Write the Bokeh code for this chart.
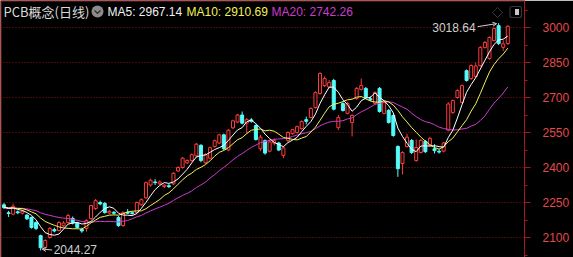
import numpy as np
import pandas as pd
from bokeh.plotting import figure
from bokeh.models import (ColumnDataSource, Range1d, FixedTicker, Label, Arrow,
                          OpenHead, BoxAnnotation, PolyAnnotation, Span)
from bokeh.embed import file_html
from bokeh.resources import INLINE

# ---------------- data ----------------
title = "PCB概念(日线)"
ma_labels = ["MA5: 2967.14", "MA10: 2910.69", "MA20: 2742.26"]
y_ticks = [2100, 2250, 2400, 2550, 2700, 2850, 3000]
y_minor_ticks = [2025, 2175, 2325, 2475, 2625, 2775, 2925, 3075]

# closes before the visible window (only used to start the moving averages)
pre_close = [2212, 2218, 2209, 2224, 2230, 2215, 2221, 2235, 2226, 2219,
             2232, 2240, 2227, 2218, 2236, 2229, 2222, 2238, 2231]

opens = [2240, 2206, 2200, 2210, 2204, 2196, 2186, 2164, 2108, 2058,
         2100, 2134, 2130, 2150, 2164, 2182, 2162, 2134, 2139, 2181,
         2224, 2250, 2246, 2205, 2208, 2186, 2151, 2208, 2206, 2207,
         2240, 2270, 2325, 2338, 2330, 2318, 2322, 2330, 2385, 2400,
         2420, 2430, 2450, 2495, 2420, 2440, 2490, 2505, 2540, 2475,
         2570, 2595, 2625, 2590, 2604, 2580, 2480, 2515, 2470, 2505,
         2505, 2452, 2516, 2545, 2550, 2567, 2605, 2614, 2657, 2717,
         2751, 2745, 2773, 2571, 2674, 2632, 2593, 2696, 2735, 2739,
         2695, 2675, 2739, 2632, 2645, 2623, 2490, 2417, 2490, 2516,
         2430, 2464, 2512, 2495, 2480, 2470, 2470, 2560, 2636, 2700,
         2679, 2815, 2781, 2790, 2837, 2914, 2867, 2944, 3008, 2915,
         2931]
highs = [2248, 2214, 2245, 2216, 2218, 2200, 2190, 2170, 2112, 2092,
         2145, 2142, 2170, 2170, 2202, 2190, 2166, 2142, 2178, 2240,
         2265, 2258, 2252, 2218, 2214, 2192, 2212, 2222, 2212, 2254,
         2268, 2340, 2352, 2350, 2345, 2328, 2330, 2380, 2405, 2445,
         2435, 2460, 2505, 2500, 2460, 2490, 2520, 2545, 2545, 2565,
         2605, 2630, 2640, 2612, 2612, 2585, 2540, 2520, 2520, 2525,
         2510, 2490, 2555, 2565, 2580, 2602, 2618, 2658, 2726, 2808,
         2790, 2775, 2780, 2625, 2680, 2680, 2628, 2745, 2781, 2745,
         2705, 2726, 2745, 2684, 2650, 2628, 2495, 2470, 2545, 2522,
         2520, 2522, 2518, 2532, 2500, 2478, 2510, 2680, 2692, 2735,
         2756, 2820, 2842, 2850, 2920, 2942, 2962, 3000, 3018.64, 2945,
         3010]
lows = [2222, 2188, 2195, 2200, 2198, 2175, 2138, 2132, 2044.27, 2050,
        2095, 2122, 2126, 2145, 2160, 2156, 2138, 2120, 2125, 2176,
        2218, 2238, 2202, 2200, 2198, 2146, 2146, 2200, 2198, 2200,
        2236, 2265, 2318, 2325, 2325, 2312, 2312, 2325, 2380, 2395,
        2415, 2425, 2445, 2422, 2415, 2435, 2485, 2500, 2475, 2470,
        2565, 2590, 2585, 2545, 2592, 2515, 2470, 2455, 2465, 2495,
        2470, 2440, 2510, 2540, 2545, 2562, 2585, 2610, 2652, 2712,
        2745, 2740, 2645, 2560, 2640, 2628, 2533, 2690, 2730, 2695,
        2685, 2670, 2635, 2628, 2588, 2532, 2360, 2370, 2485, 2458,
        2425, 2460, 2462, 2490, 2460, 2460, 2465, 2555, 2630, 2695,
        2675, 2768, 2776, 2785, 2832, 2910, 2862, 2940, 2925, 2900,
        2925]
closes = [2228, 2203, 2234, 2206, 2212, 2180, 2143, 2139, 2056, 2087,
          2139, 2128, 2164, 2162, 2194, 2162, 2143, 2128, 2173, 2237,
          2258, 2244, 2207, 2212, 2204, 2151, 2207, 2204, 2202, 2250,
          2262, 2335, 2345, 2335, 2338, 2324, 2318, 2375, 2400, 2440,
          2430, 2455, 2500, 2430, 2455, 2485, 2515, 2540, 2480, 2560,
          2600, 2625, 2590, 2605, 2598, 2520, 2530, 2462, 2510, 2515,
          2475, 2484, 2550, 2562, 2575, 2597, 2598, 2653, 2721, 2803,
          2781, 2764, 2650, 2614, 2644, 2674, 2623, 2739, 2751, 2700,
          2690, 2721, 2640, 2679, 2593, 2537, 2395, 2464, 2530, 2464,
          2486, 2516, 2468, 2525, 2472, 2466, 2505, 2672, 2687, 2730,
          2751, 2773, 2837, 2835, 2914, 2936, 2957, 2996, 2931, 2930,
          3005]

# ---------------- layout helpers ----------------
W, H = 573, 257
FRAME_W = 524
X0, DX = 3.5, 4.58            # pixel of first candle, pixels per candle
SCALE = 150.0 / 35.0          # value units per pixel
Y_END = 3000 + 27 * SCALE
Y_START = Y_END - H * SCALE


def dx(px):
    return (px - X0) / DX


def dy(py):
    return Y_END - py * SCALE


n = len(closes)
idx = np.arange(n)
o = np.array(opens, float)
h = np.array(highs, float)
l = np.array(lows, float)
c = np.array(closes, float)

allc = pd.Series(list(pre_close) + list(closes), dtype=float)
ma5 = allc.rolling(5).mean().to_numpy()[-n:]
ma10 = allc.rolling(10).mean().to_numpy()[-n:]
ma20 = allc.rolling(20).mean().to_numpy()[-n:]

UP = "#ff3b3b"
DOWN = "#54fcfc"
BG = "#000000"
AX = "#a81818"

p = figure(width=W, height=H, output_backend="svg", toolbar_location=None,
           x_range=Range1d(dx(0), dx(FRAME_W)), y_range=Range1d(Y_START, Y_END),
           x_axis_location=None, y_axis_location="right",
           min_border_left=0, min_border_right=W - FRAME_W,
           min_border_top=0, min_border_bottom=0)
p.background_fill_color = BG
p.border_fill_color = BG
p.outline_line_color = None
p.xgrid.visible = False

ax = p.yaxis[0]
ax.ticker = FixedTicker(ticks=y_ticks, minor_ticks=y_minor_ticks)
ax.axis_line_color = AX
ax.major_tick_line_color = AX
ax.minor_tick_line_color = AX
ax.major_tick_in = 0
ax.major_tick_out = 6
ax.minor_tick_in = 0
ax.minor_tick_out = 3
ax.major_label_text_color = "#e24a4a"
ax.major_label_text_font = "Liberation Sans"
ax.major_label_text_font_size = "12px"
ax.major_label_standoff = 12

p.ygrid.grid_line_color = "#8a1414"
p.ygrid.grid_line_dash = "1 2"
p.ygrid.grid_line_width = 1

# border lines
p.add_layout(Span(location=dy(0.5), dimension="width", line_color=AX, line_width=1))
p.add_layout(Span(location=dx(0.5), dimension="height", line_color=AX, line_width=1))

up = c >= o
src_up = ColumnDataSource(dict(x=idx[up], o=o[up], c=c[up], h=h[up], l=l[up],
                               top=np.maximum(o, c)[up], bot=np.minimum(o, c)[up]))
src_dn = ColumnDataSource(dict(x=idx[~up], o=o[~up], c=c[~up], h=h[~up], l=l[~up],
                               top=np.maximum(o, c)[~up], bot=np.minimum(o, c)[~up]))

bw = 0.66
p.segment(x0="x", y0="l", x1="x", y1="h", source=src_up, line_color=UP, line_width=1)
p.vbar(x="x", top="top", bottom="bot", width=bw, source=src_up,
       fill_color=BG, line_color=UP, line_width=1)
p.segment(x0="x", y0="l", x1="x", y1="h", source=src_dn, line_color=DOWN, line_width=1)
p.vbar(x="x", top="top", bottom="bot", width=bw, source=src_dn,
       fill_color=DOWN, line_color=DOWN, line_width=1)

ma_src = ColumnDataSource(dict(x=idx, ma5=ma5, ma10=ma10, ma20=ma20))
p.line("x", "ma20", source=ma_src, line_color="#cc3ccc", line_width=1)
p.line("x", "ma10", source=ma_src, line_color="#f2f25a", line_width=1)
p.line("x", "ma5", source=ma_src, line_color="#ffffff", line_width=1)

# ---------------- header ----------------
p.add_layout(Label(x=dx(3), y=dy(11), text=title, text_baseline="middle",
                   text_font="Noto Sans CJK SC", text_font_size="13px",
                   text_color="#dadada"))
p.add_layout(BoxAnnotation(left=dx(91), right=dx(103), top=dy(5), bottom=dy(17),
                           border_radius=6, fill_color="#8c8c8c", fill_alpha=1,
                           line_color=None))
p.add_layout(PolyAnnotation(xs=[dx(94), dx(97), dx(100), dx(100), dx(97), dx(94)],
                            ys=[dy(9), dy(12), dy(9), dy(10.8), dy(13.8), dy(10.8)],
                            fill_color="#2a2a2a", fill_alpha=1, line_color=None))
ma_colors = ["#f0f0f0", "#f2f25a", "#cc3ccc"]
ma_px = [107, 186, 271]
for t, col, px in zip(ma_labels, ma_colors, ma_px):
    p.add_layout(Label(x=dx(px), y=dy(11.5), text=t, text_baseline="middle",
                       text_font="Liberation Sans", text_font_size="12px",
                       text_color=col))

# icons at top right
p.add_layout(PolyAnnotation(xs=[dx(497), dx(502), dx(497), dx(492)],
                            ys=[dy(7), dy(12), dy(17), dy(12)],
                            fill_alpha=0, line_color="#b4b4b4", line_width=1))
p.add_layout(BoxAnnotation(left=dx(509.5), right=dx(521), top=dy(6), bottom=dy(17),
                           border_radius=2, fill_alpha=0, line_color="#b4b4b4",
                           line_width=1.2))
p.add_layout(BoxAnnotation(left=dx(514.5), right=dx(518.5), top=dy(8.5), bottom=dy(14.5),
                           fill_color="#c8c8c8", fill_alpha=1, line_color=None))

# ---------------- extreme markers ----------------
imax = int(np.argmax(h))
imin = int(np.argmin(l))
cx_max = X0 + DX * imax
cx_min = X0 + DX * imin
py_max = (Y_END - h[imax]) / SCALE
py_min = (Y_END - l[imin]) / SCALE

p.add_layout(Label(x=dx(cx_max - 23), y=dy(py_max + 4.5), text=f"{h[imax]:.2f}",
                   text_align="right", text_baseline="middle",
                   text_font="Liberation Sans", text_font_size="12px",
                   text_color="#cfcfcf"))
p.add_layout(Arrow(x_start=dx(cx_max - 21), y_start=dy(py_max + 3.5),
                   x_end=dx(cx_max - 2), y_end=dy(py_max + 0.5),
                   line_color="#cfcfcf", line_width=1,
                   end=OpenHead(size=4, line_color="#cfcfcf", line_width=1)))

p.add_layout(Label(x=dx(cx_min + 13), y=dy(py_min - 1.5), text=f"{l[imin]:.2f}",
                   text_align="left", text_baseline="middle",
                   text_font="Liberation Sans", text_font_size="12px",
                   text_color="#cfcfcf"))
p.add_layout(Arrow(x_start=dx(cx_min + 11.5), y_start=dy(py_min - 0.5),
                   x_end=dx(cx_min + 1.5), y_end=dy(py_min - 1.5),
                   line_color="#cfcfcf", line_width=1,
                   end=OpenHead(size=4, line_color="#cfcfcf", line_width=1)))

open("out.html", "w").write(file_html(p, INLINE))
